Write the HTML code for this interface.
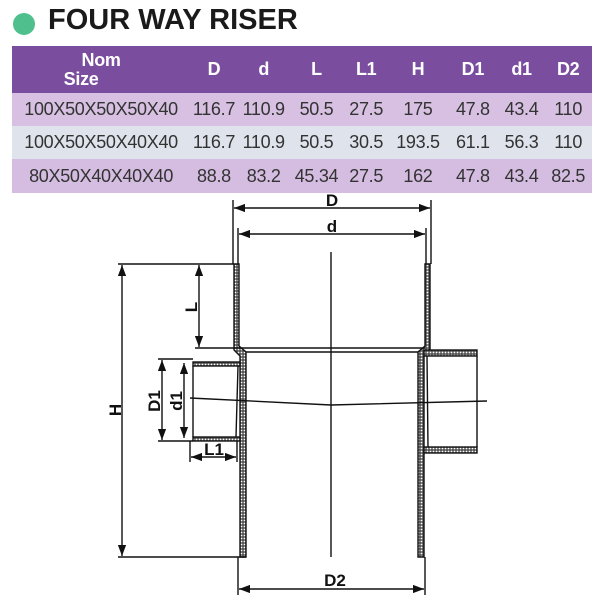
<!DOCTYPE html>
<html><head><meta charset="utf-8"><style>
body{margin:0;width:600px;height:600px;background:#fff;overflow:hidden;font-family:"Liberation Sans",sans-serif;}
.t{position:absolute;left:48px;top:4px;font-size:29px;font-weight:bold;color:#1a1a1a;}
.dot{position:absolute;left:13px;top:13px;width:22px;height:22px;border-radius:50%;background:#4fc08d;}
table{position:absolute;left:12px;top:46px;width:580px;border-collapse:collapse;}
td{text-align:center;padding:0;font-size:18px;color:#333;white-space:nowrap;letter-spacing:-0.3px;}
tr.h td{background:#7a4d9f;color:#fff;font-weight:bold;font-size:18px;height:47px;}
tr.r1 td{background:#d7c0e2;height:33px;}
tr.r2 td{background:#dfe4ec;height:33px;}
tr.r3 td{background:#d5bde1;height:34px;}
</style></head><body>
<div class="dot"></div><div class="t">FOUR WAY RISER</div>
<table>
<colgroup><col style="width:172px"><col style="width:46px"><col style="width:50px"><col style="width:52px"><col style="width:44px"><col style="width:56px"><col style="width:50px"><col style="width:44px"><col style="width:46px"></colgroup>
<tr class="h"><td style="line-height:19px">Nom<br><span style="margin-right:40px">Size</span></td><td>D</td><td>d</td><td>L</td><td>L1</td><td>H</td><td>D1</td><td>d1</td><td>D2</td></tr>
<tr class="r1"><td>100X50X50X50X40</td><td>116.7</td><td>110.9</td><td>50.5</td><td>27.5</td><td>175</td><td>47.8</td><td>43.4</td><td>110</td></tr>
<tr class="r2"><td>100X50X50X40X40</td><td>116.7</td><td>110.9</td><td>50.5</td><td>30.5</td><td>193.5</td><td>61.1</td><td>56.3</td><td>110</td></tr>
<tr class="r3"><td>80X50X40X40X40</td><td>88.8</td><td>83.2</td><td>45.34</td><td>27.5</td><td>162</td><td>47.8</td><td>43.4</td><td>82.5</td></tr>
</table>
<svg width="600" height="600" style="position:absolute;left:0;top:0">
<defs>
<pattern id="p" width="3" height="3" patternUnits="userSpaceOnUse"><rect width="3" height="3" fill="#555"/><circle cx="1.5" cy="1.5" r="0.9" fill="#fff"/></pattern>
<marker id="a" markerWidth="8" markerHeight="6" refX="8" refY="3" orient="auto-start-reverse"><path d="M0,0 L8,3 L0,6z" fill="#111"/></marker>
</defs>
<g stroke="#111" stroke-width="1.4" fill="none">
<path d="M234,264 H239 V346 L246,352 V557 H240 V356 L234,350Z" fill="url(#p)"/>
<path d="M425,264 H430 V350 L424,356 V557 H418 V352 L425,346Z" fill="url(#p)"/>
<rect x="193" y="362" width="47" height="4" fill="url(#p)"/>
<rect x="193" y="437" width="47" height="4" fill="url(#p)"/>
<rect x="424" y="350" width="53" height="6" fill="url(#p)"/>
<rect x="424" y="447" width="53" height="6" fill="url(#p)"/>
<line x1="239" y1="348" x2="425" y2="348"/>
<line x1="246" y1="352" x2="418" y2="352"/>
<line x1="193" y1="366" x2="193" y2="437"/>
<line x1="238" y1="366" x2="236" y2="437"/>
<line x1="427" y1="356" x2="428" y2="447"/>
<line x1="477" y1="356" x2="477" y2="447"/>
<line x1="331" y1="252" x2="331" y2="557"/>
<path d="M190,398 L331,405 L487,401"/>
<line x1="233" y1="200" x2="233" y2="264"/>
<line x1="431" y1="200" x2="431" y2="264"/>
<line x1="238" y1="228" x2="238" y2="264"/>
<line x1="426" y1="228" x2="426" y2="264"/>
<line x1="118" y1="264" x2="234" y2="264"/>
<line x1="118" y1="557" x2="246" y2="557"/>
<line x1="195" y1="348" x2="239" y2="348"/>
<line x1="238" y1="557" x2="238" y2="595"/>
<line x1="425" y1="557" x2="425" y2="595"/>
<line x1="158" y1="359" x2="193" y2="359"/>
<line x1="158" y1="441" x2="193" y2="441"/>
<line x1="190" y1="441" x2="190" y2="462"/>
<line x1="237" y1="441" x2="237" y2="462"/>
<g marker-start="url(#a)" marker-end="url(#a)">
<line x1="234" y1="208" x2="430" y2="208"/>
<line x1="239" y1="234" x2="425" y2="234"/>
<line x1="122" y1="265" x2="122" y2="556"/>
<line x1="199" y1="265" x2="199" y2="347"/>
<line x1="162" y1="360" x2="162" y2="440"/>
<line x1="184" y1="363" x2="184" y2="438"/>
<line x1="191" y1="457" x2="236" y2="457"/>
<line x1="239" y1="589" x2="424" y2="589"/>
</g>
</g>
<g font-family="Liberation Sans" font-weight="bold" font-size="17" fill="#111" text-anchor="middle">
<text x="332" y="206">D</text>
<text x="332" y="232">d</text>
<text x="335" y="586">D2</text>
<text x="214" y="455">L1</text>
<text transform="translate(121,410) rotate(-90)">H</text>
<text transform="translate(197,307) rotate(-90)">L</text>
<text transform="translate(160,401) rotate(-90)">D1</text>
<text transform="translate(182,401) rotate(-90)">d1</text>
</g>
</svg>
</body></html>
